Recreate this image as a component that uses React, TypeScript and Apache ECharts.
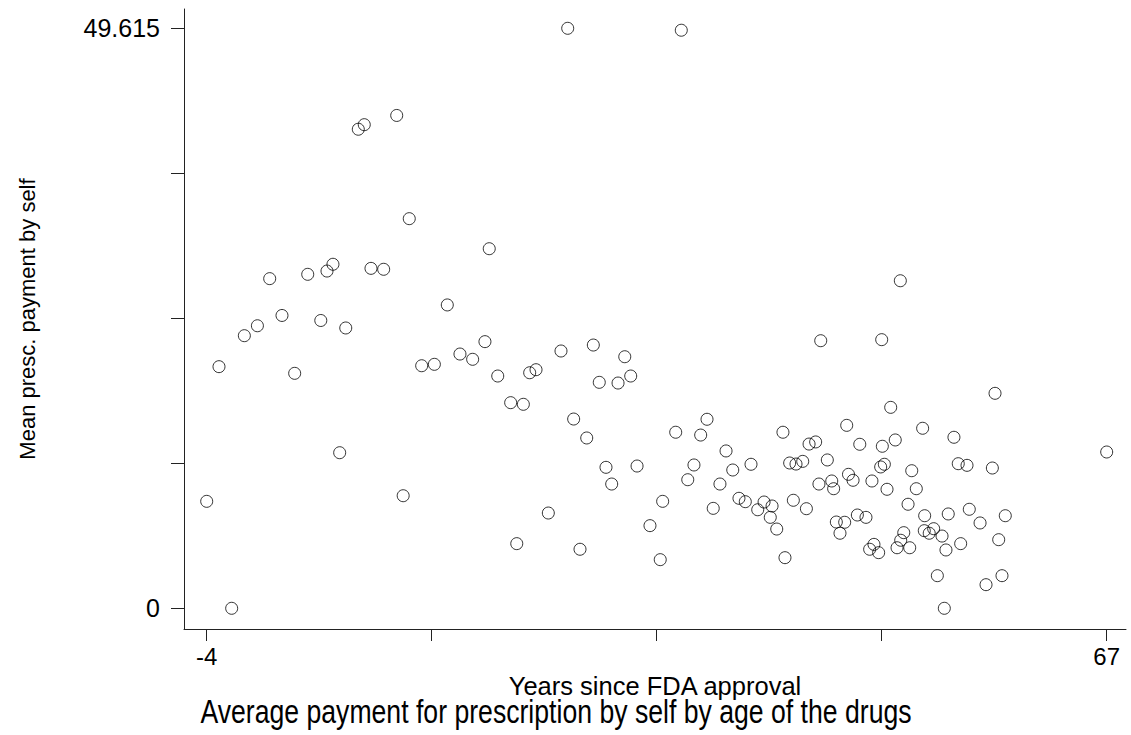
import React, { useEffect, useRef } from "react";
import * as echarts from "echarts";

// Years since FDA approval (x) and mean prescription payment by self (y)
const yearsSinceApproval = [
  -4, -3.03, -2.03, -1.03, 0, 0.97, 1.94, 2.94, 3.97, 5.0,
  5.49, 5.96, 6.49, 6.97, 7.96, 8.43, 8.96, 9.96, 10.99, 11.5,
  11.98, 12.96, 13.96, 14.98, 15.98, 16.98, 17.95, 18.29, 18.96, 19.98,
  20.46, 20.98, 21.48, 21.98, 22.95, 23.95, 24.48, 24.95, 25.45, 25.98,
  26.5, 26.97, 27.5, 27.95, 28.45, 28.98, 29.45, 29.95, 30.97, 31.78,
  31.97, 33.0, 33.44, 33.95, 34.44, 34.97, 35.47, 35.96, 36.49, 36.97,
  37.5, 37.99, 38.49, 38.94, 39.47, 39.97, 40.46, 40.6, 40.97, 41.46,
  41.62, 41.99, 42.28, 42.49, 43.02, 43.31, 43.52, 44.04, 44.3, 44.44,
  44.96, 45.31, 45.46, 45.67, 45.96, 46.33, 46.49, 46.63, 46.99, 47.33,
  47.52, 48.01, 48.3, 48.48, 48.64, 49.01, 49.17, 49.25, 49.3, 49.46,
  49.67, 49.96, 50.32, 50.46, 50.72, 50.75, 50.99, 51.33, 51.46, 51.62,
  51.98, 52.48, 52.61, 52.64, 53.0, 53.35, 53.64, 54.01, 54.19, 54.32,
  54.5, 54.95, 55.29, 55.48, 55.98, 56.16, 57.01, 57.48, 57.98, 58.19,
  58.48, 58.74, 59.0, 67,
];

const meanPayment = [
  9.15, 20.67, 0, 23.32, 24.17, 28.2, 25.05, 20.1, 28.57, 24.62,
  28.85, 29.43, 13.31, 23.98, 40.98, 41.37, 29.08, 29.0, 42.16, 9.63,
  33.33, 20.75, 20.87, 25.95, 21.75, 21.3, 22.81, 30.76, 19.87, 17.59,
  5.53, 17.45, 20.15, 20.41, 8.15, 22.01, 49.615, 16.19, 5.05, 14.57,
  22.52, 19.33, 12.06, 10.63, 19.27, 21.52, 19.87, 12.17, 7.07, 4.16,
  9.15, 15.06, 49.45, 11.0, 12.26, 14.82, 16.17, 8.55, 10.63, 13.46,
  11.83, 9.41, 9.12, 12.32, 8.43, 9.09, 7.78, 8.75, 6.78, 15.06,
  4.33, 12.43, 9.24, 12.34, 12.57, 8.52, 14.05, 14.23, 10.63, 22.89,
  12.69, 10.89, 10.23, 7.38, 6.42, 7.36, 15.65, 11.46, 10.95, 7.98,
  14.03, 7.78, 5.05, 10.89, 5.47, 4.76, 12.09, 22.98, 13.86, 12.32,
  10.18, 17.19, 14.4, 5.18, 28.02, 5.82, 6.47, 8.9, 5.18, 11.77,
  10.23, 15.4, 6.64, 7.92, 6.42, 6.81, 2.79, 6.18, 0, 4.99,
  8.07, 14.63, 12.37, 5.53, 12.23, 8.47, 7.3, 2.02, 12.0, 18.39,
  5.87, 2.79, 7.92, 13.37,
];

const xTicks = [-4, 13.75, 31.5, 49.25, 67];
const xTickLabels = [-4, 67];
const yTicks = [0, 12.40375, 24.8075, 37.21125, 49.615];
const yTickLabels = [0, 49.615];

const titleText = "Average payment for prescription by self by age of the drugs";
const xName = "Years since FDA approval";
const yName = "Mean presc. payment by self";

export default function App() {
  const ref = useRef<HTMLDivElement>(null);

  useEffect(() => {
    if (!ref.current) return;
    const chart = echarts.init(ref.current, null, { renderer: "svg" });
    const font = "'Liberation Sans', Arial, Helvetica, sans-serif";
    const points = yearsSinceApproval.map((x, i) => [x, meanPayment[i]]);

    chart.setOption({
      animation: false,
      backgroundColor: "#ffffff",
      graphic: [
        {
          type: "text",
          x: 556,
          y: 711,
          scaleX: 0.807,
          silent: true,
          style: {
            text: titleText,
            fontFamily: font,
            fontSize: 33,
            fill: "#000",
            textAlign: "center",
            textVerticalAlign: "middle",
          },
        },
      ],
      grid: { left: 184, top: 9, right: 5, bottom: 106, containLabel: false },
      xAxis: {
        type: "value",
        min: -5.791,
        max: 68.523,
        name: xName,
        nameLocation: "middle",
        nameGap: 38,
        nameTextStyle: { fontFamily: font, fontSize: 25.5, color: "#000" },
        axisLine: { show: true, onZero: false, lineStyle: { color: "#222", width: 1 } },
        axisTick: { show: true, inside: false, length: 12, customValues: xTicks, lineStyle: { color: "#222" } },
        axisLabel: { show: true, customValues: xTickLabels, margin: 15, fontFamily: font, fontSize: 24, color: "#000" },
        splitLine: { show: false },
      },
      yAxis: {
        type: "value",
        min: -1.771,
        max: 51.266,
        name: yName,
        nameLocation: "middle",
        nameGap: 146,
        nameTextStyle: { fontFamily: font, fontSize: 22, color: "#000" },
        axisLine: { show: true, onZero: false, lineStyle: { color: "#222", width: 1 } },
        axisTick: { show: true, inside: false, length: 13, customValues: yTicks, lineStyle: { color: "#222" } },
        axisLabel: {
          show: true,
          customValues: yTickLabels,
          margin: 24,
          fontFamily: font,
          fontSize: 25,
          color: "#000",
          formatter: (v: number) => String(v),
        },
        splitLine: { show: false },
      },
      series: [
        {
          type: "scatter",
          data: points,
          symbol: "circle",
          symbolSize: 12,
          itemStyle: { color: "rgba(0,0,0,0)", borderColor: "#000", borderWidth: 1 },
          emphasis: { disabled: true },
          silent: true,
        },
      ],
    });

    return () => chart.dispose();
  }, []);

  return (
    <div
      ref={ref}
      style={{ position: "fixed", left: 0, top: 0, width: 1131, height: 735, background: "#fff" }}
    />
  );
}
